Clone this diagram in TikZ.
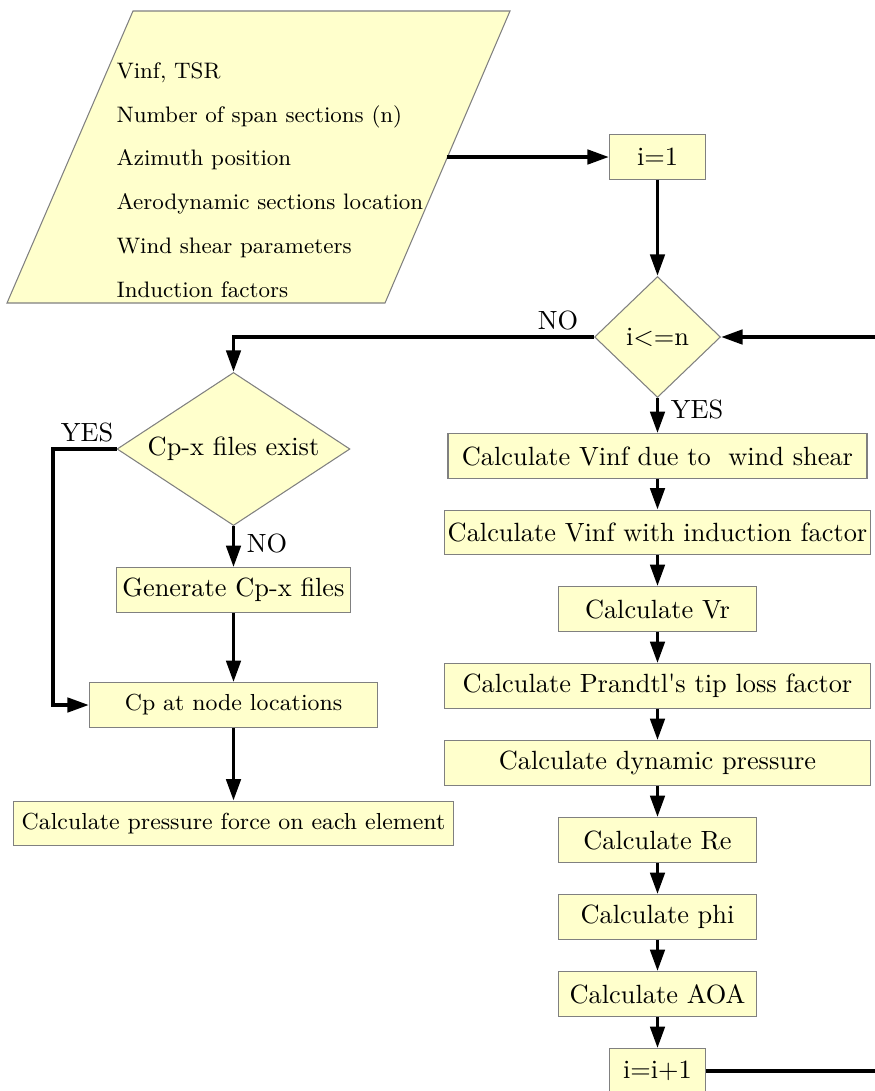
\documentclass[tikz,border=0pt]{standalone}
\usetikzlibrary{arrows.meta,shapes.geometric}
\definecolor{boxfill}{RGB}{255,255,204}
\definecolor{boxline}{RGB}{128,128,128}
\begin{document}
\begin{tikzpicture}[x=0.3795pt,y=-0.3795pt,
  every node/.style={inner sep=0pt,font=\fontsize{10}{12}\selectfont},
  procbox/.style={draw=boxline,fill=boxfill,line width=0.4pt,rectangle,minimum height=16.9pt},
  decide/.style={draw=boxline,fill=boxfill,line width=0.4pt,diamond},
  smalltext/.style={font=\fontsize{8.8}{10.5}\selectfont},
  flow/.style={line width=1.5pt,-{Triangle[length=8.2pt,width=5.4pt]}},
  plain/.style={line width=1.5pt},
  lbl/.style={font=\fontsize{10}{12}\selectfont}]
\useasboundingbox (0,0) rectangle (874,1091);

% input data block
\draw[draw=boxline,fill=boxfill,line width=0.4pt]
  (133,11) -- (510,11) -- (385,303) -- (7,303) -- cycle;
\node[anchor=north west,align=left,font=\fontsize{8.5}{16.6}\selectfont] (inputs) at (116,62)
  {Vinf, TSR\\
   Number of span sections (n)\\
   Azimuth position\\
   Aerodynamic sections location\\
   Wind shear parameters\\
   Induction factors};
\coordinate (inR) at (446.6,157);

% loop over span sections
\node[procbox,minimum width=36.4pt] (init) at (657.5,157) {i=1};
\node[decide,minimum width=47.8pt,minimum height=45.9pt,shape aspect=1.04] (cond) at (657.5,337) {i<=n};
\node[procbox,minimum width=159pt] (b1) at (657.5,456) {Calculate Vinf due to~ wind shear};
\node[procbox,minimum width=161.7pt] (b2) at (657.5,532.5) {Calculate Vinf with induction factor};
\node[procbox,minimum width=74.8pt] (b3) at (657.5,609) {Calculate Vr};
\node[procbox,minimum width=161.7pt] (b4) at (657.5,686) {Calculate Prandtl\textquotesingle s tip loss factor};
\node[procbox,minimum width=161.7pt] (b5) at (657.5,763) {Calculate dynamic pressure};
\node[procbox,minimum width=74.8pt] (b6) at (657.5,840) {Calculate Re};
\node[procbox,minimum width=74.8pt] (b7) at (657.5,917) {Calculate phi};
\node[procbox,minimum width=74.8pt] (b8) at (657.5,994) {Calculate AOA};
\node[procbox,minimum width=36.4pt] (inc) at (657.5,1071) {i=i+1};
\coordinate (retA) at (880,1071);
\coordinate (retB) at (880,337);

% pressure coefficient branch
\node[decide,minimum width=88.4pt,minimum height=58.1pt,shape aspect=1.52] (exist) at (233.5,449) {Cp-x files exist};
\node[procbox,minimum width=88.8pt] (gen) at (233.5,590) {Generate Cp-x files};
\node[procbox,smalltext,minimum width=109.3pt] (cpn) at (233.5,705) {Cp at node locations};
\node[procbox,smalltext,minimum width=167.3pt] (press) at (233.5,823.5) {Calculate pressure force on each element};
\coordinate (yesbend) at (53,449);

% labels
\node[lbl] (noA) at (558,320) {NO};
\node[lbl] (yesA) at (697,409) {YES};
\node[lbl] (yesB) at (87,432) {YES};
\node[lbl] (noB) at (267,543) {NO};

% connectors
\draw[flow] (inR) -- (init.west);
\draw[flow] (init.south) -- (cond.north);
\draw[flow] (cond.west) -| (exist.north);
\draw[flow] (cond.south) -- (b1.north);
\draw[flow] (b1) -- (b2);
\draw[flow] (b2) -- (b3);
\draw[flow] (b3) -- (b4);
\draw[flow] (b4) -- (b5);
\draw[flow] (b5) -- (b6);
\draw[flow] (b6) -- (b7);
\draw[flow] (b7) -- (b8);
\draw[flow] (b8) -- (inc);
\draw[plain] (inc.east) -- (retA);
\draw[flow] (retB) -- (cond.east);
\draw[flow] (exist.west) -- (yesbend) |- (cpn.west);
\draw[flow] (exist.south) -- (gen.north);
\draw[flow] (gen) -- (cpn);
\draw[flow] (cpn) -- (press);
\end{tikzpicture}
\end{document}
